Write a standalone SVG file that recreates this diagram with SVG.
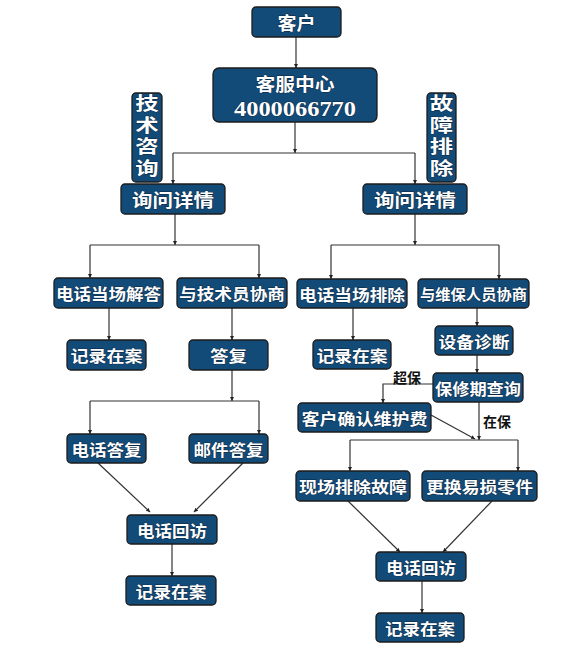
<svg xmlns="http://www.w3.org/2000/svg" width="582" height="654" viewBox="0 0 582 654">
<style>
.box{fill:#124a78;stroke:#1c1c1c;stroke-width:1.3}
.t{fill:#fff;font-family:"Noto Sans CJK SC","Noto Sans",sans-serif;font-weight:bold;text-anchor:middle;dominant-baseline:central;font-size:16px;stroke:#0b2740;stroke-width:0.8;paint-order:stroke}
.num{font-family:"Liberation Serif",serif;font-size:22px}
.v{writing-mode:vertical-rl;font-size:18px;letter-spacing:3.5px}
.lbl{fill:#111;font-family:"Noto Sans CJK SC",sans-serif;font-weight:bold;font-size:14px;text-anchor:middle;dominant-baseline:central}
.c{fill:none;stroke:#333;stroke-width:1.2}
</style>
<defs>
<marker id="a" viewBox="0 0 6 6" refX="6" refY="3" markerWidth="4" markerHeight="4" orient="auto" markerUnits="userSpaceOnUse">
<path d="M0,0 L6,3 L0,6 z" fill="#222"/>
</marker>
</defs>
<rect width="582" height="654" fill="#fff"/>
<g id="connectors">
<path class="c" d="M296,37 V68" marker-end="url(#a)"/>
<path class="c" d="M295,122 V153" marker-end="url(#a)"/>
<path class="c" d="M173,153 H415"/>
<path class="c" d="M173,153 V184" marker-end="url(#a)"/>
<path class="c" d="M415,153 V184" marker-end="url(#a)"/>
<path class="c" d="M175,214 V245" marker-end="url(#a)"/>
<path class="c" d="M90,245 H259"/>
<path class="c" d="M90,245 V278" marker-end="url(#a)"/>
<path class="c" d="M259,245 V278" marker-end="url(#a)"/>
<path class="c" d="M109,308 V340" marker-end="url(#a)"/>
<path class="c" d="M232,308 V340" marker-end="url(#a)"/>
<path class="c" d="M232,370 V401" marker-end="url(#a)"/>
<path class="c" d="M90,401 H259"/>
<path class="c" d="M90,401 V434" marker-end="url(#a)"/>
<path class="c" d="M259,401 V434" marker-end="url(#a)"/>
<path class="c" d="M98,463 L150,512" marker-end="url(#a)"/>
<path class="c" d="M243,463 L194,512" marker-end="url(#a)"/>
<path class="c" d="M172,544 V576" marker-end="url(#a)"/>
<path class="c" d="M415,214 V245" marker-end="url(#a)"/>
<path class="c" d="M331,245 H499"/>
<path class="c" d="M331,245 V279" marker-end="url(#a)"/>
<path class="c" d="M499,245 V279" marker-end="url(#a)"/>
<path class="c" d="M353,308 V340" marker-end="url(#a)"/>
<path class="c" d="M477,308 V326" marker-end="url(#a)"/>
<path class="c" d="M477,355 V373" marker-end="url(#a)"/>
<path class="c" d="M433,384 H383 V403" marker-end="url(#a)"/>
<path class="c" d="M479,402 V440" marker-end="url(#a)"/>
<path class="c" d="M431,415 L475,439" marker-end="url(#a)"/>
<path class="c" d="M350,440 H518"/>
<path class="c" d="M350,440 V471" marker-end="url(#a)"/>
<path class="c" d="M518,440 V471" marker-end="url(#a)"/>
<path class="c" d="M348,501 L400,552" marker-end="url(#a)"/>
<path class="c" d="M492,501 L443,552" marker-end="url(#a)"/>
<path class="c" d="M422,581 V613" marker-end="url(#a)"/>
<text class="lbl" x="407" y="377">超保</text>
<text class="lbl" x="497" y="421">在保</text>
</g>
<g id="n-kehu"><rect class="box" x="252" y="7" width="89" height="30" rx="4"/><text class="t" x="296.5" y="22" style="font-size:18px" textLength="38" lengthAdjust="spacingAndGlyphs">客户</text></g>
<g id="n-kefu"><rect class="box" x="213" y="68" width="164" height="54" rx="6"/><text class="t" x="295" y="83" style="font-size:18px" textLength="79" lengthAdjust="spacingAndGlyphs">客服中心</text><text class="t num" x="295" y="108" textLength="122" lengthAdjust="spacingAndGlyphs">4000066770</text></g>
<g id="n-jishu"><rect class="box" x="132" y="93" width="30" height="89" rx="4"/>
<text class="t v" transform="translate(147,137.5) scale(1.3,1)" x="0" y="0">技术咨询</text></g>
<g id="n-guzhang"><rect class="box" x="427" y="93" width="29" height="89" rx="4"/>
<text class="t v" transform="translate(441.5,137.5) scale(1.3,1)" x="0" y="0">故障排除</text></g>
<g id="n-xunwen-l"><rect class="box" x="121" y="184" width="104" height="30" rx="4"/><text class="t" x="173" y="199" style="font-size:18px" textLength="82" lengthAdjust="spacingAndGlyphs">询问详情</text></g>
<g id="n-xunwen-r"><rect class="box" x="363" y="184" width="104" height="30" rx="4"/><text class="t" x="415" y="199" style="font-size:18px" textLength="82" lengthAdjust="spacingAndGlyphs">询问详情</text></g>
<g id="n-dhjd"><rect class="box" x="54" y="278" width="109" height="30" rx="4"/><text class="t" x="108.5" y="293" textLength="105" lengthAdjust="spacingAndGlyphs">电话当场解答</text></g>
<g id="n-yjsy"><rect class="box" x="177" y="278" width="110" height="30" rx="4"/><text class="t" x="232" y="293" textLength="106" lengthAdjust="spacingAndGlyphs">与技术员协商</text></g>
<g id="n-jl-l1"><rect class="box" x="67" y="340" width="79" height="30" rx="4"/><text class="t" x="106.5" y="355" textLength="72" lengthAdjust="spacingAndGlyphs">记录在案</text></g>
<g id="n-dafu"><rect class="box" x="189" y="340" width="79" height="30" rx="4"/><text class="t" x="228.5" y="355" textLength="37" lengthAdjust="spacingAndGlyphs">答复</text></g>
<g id="n-dhdf"><rect class="box" x="67" y="434" width="79" height="29" rx="4"/><text class="t" x="106.5" y="448.5" textLength="70" lengthAdjust="spacingAndGlyphs">电话答复</text></g>
<g id="n-yjdf"><rect class="box" x="189" y="434" width="79" height="29" rx="4"/><text class="t" x="228.5" y="448.5" textLength="70" lengthAdjust="spacingAndGlyphs">邮件答复</text></g>
<g id="n-hf-l"><rect class="box" x="127" y="515" width="90" height="29" rx="4"/><text class="t" x="172" y="529.5" textLength="70" lengthAdjust="spacingAndGlyphs">电话回访</text></g>
<g id="n-jl-l2"><rect class="box" x="126" y="576" width="90" height="29" rx="4"/><text class="t" x="171" y="590.5" textLength="71" lengthAdjust="spacingAndGlyphs">记录在案</text></g>
<g id="n-dhpc"><rect class="box" x="297" y="279" width="110" height="29" rx="4"/><text class="t" x="352" y="293.5" textLength="106" lengthAdjust="spacingAndGlyphs">电话当场排除</text></g>
<g id="n-ywby"><rect class="box" x="418" y="279" width="111" height="29" rx="4"/><text class="t" x="473.5" y="293.5" style="font-size:15px" textLength="107" lengthAdjust="spacingAndGlyphs">与维保人员协商</text></g>
<g id="n-jl-r1"><rect class="box" x="313" y="340" width="78" height="29" rx="4"/><text class="t" x="352" y="354.5" textLength="71" lengthAdjust="spacingAndGlyphs">记录在案</text></g>
<g id="n-sbzd"><rect class="box" x="435" y="326" width="78" height="29" rx="4"/><text class="t" x="474" y="340.5" textLength="71" lengthAdjust="spacingAndGlyphs">设备诊断</text></g>
<g id="n-bxq"><rect class="box" x="433" y="373" width="90" height="29" rx="4"/><text class="t" x="478" y="387.5" textLength="86" lengthAdjust="spacingAndGlyphs">保修期查询</text></g>
<g id="n-khqr"><rect class="box" x="298" y="403" width="133" height="29" rx="4"/><text class="t" x="364.5" y="417.5" textLength="126" lengthAdjust="spacingAndGlyphs">客户确认维护费</text></g>
<g id="n-xcpc"><rect class="box" x="296" y="471" width="114" height="30" rx="4"/><text class="t" x="353" y="486" textLength="108" lengthAdjust="spacingAndGlyphs">现场排除故障</text></g>
<g id="n-ghys"><rect class="box" x="422" y="471" width="115" height="30" rx="4"/><text class="t" x="479.5" y="486" textLength="107" lengthAdjust="spacingAndGlyphs">更换易损零件</text></g>
<g id="n-hf-r"><rect class="box" x="376" y="552" width="90" height="29" rx="4"/><text class="t" x="421" y="566.5" textLength="70" lengthAdjust="spacingAndGlyphs">电话回访</text></g>
<g id="n-jl-r2"><rect class="box" x="376" y="613" width="88" height="29" rx="4"/><text class="t" x="420" y="627.5" textLength="70" lengthAdjust="spacingAndGlyphs">记录在案</text></g>
</svg>
